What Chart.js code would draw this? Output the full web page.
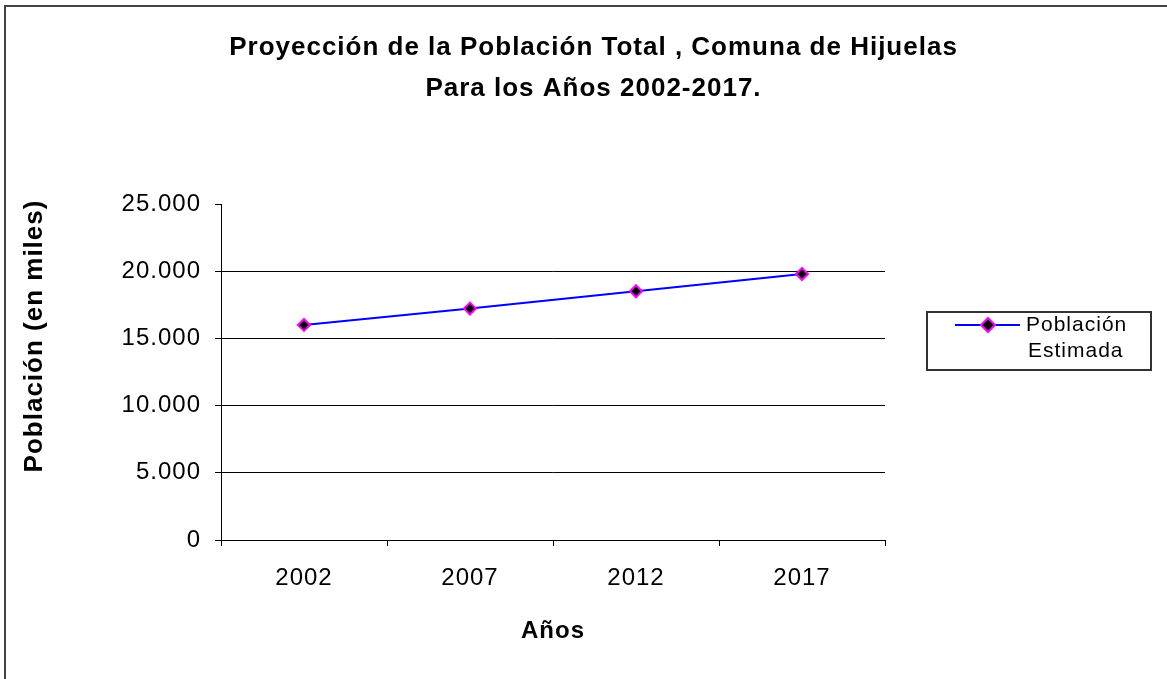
<!DOCTYPE html>
<html>
<head>
<meta charset="utf-8">
<script src="https://cdn.jsdelivr.net/npm/chart.js@4.4.1/dist/chart.umd.min.js"></script>
<style>
  html, body { margin:0; padding:0; background:#fff; }
  #wrap { position:relative; width:1167px; height:679px; overflow:hidden; }
  #frame { position:absolute; left:4px; top:5px; width:1300px; height:800px;
           border-top:2px solid #444; border-left:2px solid #444; }
  #chart { position:absolute; left:0; top:0; }
</style>
</head>
<body>
<div id="wrap">
  <div id="frame"></div>
  <canvas id="chart" width="1167" height="679"></canvas>
</div>
<script>
const FONT = '"Liberation Sans", Arial, sans-serif';

const titleLines = ['Proyección de la Población Total , Comuna de Hijuelas', 'Para los Años 2002-2017.'];
const years = ['2002', '2007', '2012', '2017'];
const poblacion = [16000, 17220, 18510, 19790];
const yTickLabels = ['0', '5.000', '10.000', '15.000', '20.000', '25.000'];
const seriesName = ['Población', 'Estimada'];
const xTitle = 'Años';
const yTitle = 'Población (en miles)';

// the old Excel text is a bit wider than Liberation Sans, so space letters out a little
const spacing = {
  id: 'spacing',
  beforeDraw(chart){ chart.ctx.letterSpacing = '1px'; }
};

// y axis title drawn by hand: Excel puts it off the plot's centre
const yTitlePlugin = {
  id: 'yTitle',
  afterDraw(chart){
    const ctx = chart.ctx;
    ctx.save();
    ctx.translate(35, 336);
    ctx.rotate(-Math.PI/2);
    ctx.font = 'bold 26px ' + FONT;
    ctx.letterSpacing = '1px';
    ctx.fillStyle = '#000';
    ctx.textAlign = 'center';
    ctx.textBaseline = 'middle';
    ctx.fillText(yTitle, 0, 0);
    ctx.restore();
  }
};

// boxed legend on the right
const boxLegend = {
  id: 'boxLegend',
  afterDraw(chart){
    const ctx = chart.ctx;
    ctx.save();
    ctx.strokeStyle = '#333';
    ctx.lineWidth = 2;
    ctx.strokeRect(927, 312, 224, 58);
    ctx.strokeStyle = '#0000ff';
    ctx.lineWidth = 2;
    ctx.beginPath(); ctx.moveTo(955, 325); ctx.lineTo(1020, 325); ctx.stroke();
    ctx.beginPath();
    ctx.moveTo(988, 318); ctx.lineTo(995, 325); ctx.lineTo(988, 332); ctx.lineTo(981, 325); ctx.closePath();
    ctx.fillStyle = '#000'; ctx.fill();
    ctx.strokeStyle = '#ff00ff'; ctx.stroke();
    ctx.fillStyle = '#000';
    ctx.font = '21px ' + FONT;
    ctx.letterSpacing = '1px';
    ctx.textAlign = 'left';
    ctx.textBaseline = 'middle';
    ctx.fillText(seriesName[0], 1026, 325);
    ctx.fillText(seriesName[1], 1028, 351);
    ctx.restore();
  }
};

new Chart(document.getElementById('chart'), {
  type: 'line',
  data: {
    labels: years,
    datasets: [{
      label: seriesName.join(' '),
      data: poblacion,
      borderColor: '#0000ff',
      borderWidth: 2,
      pointStyle: 'rectRot',
      pointRadius: 6,
      pointBackgroundColor: '#000',
      pointBorderColor: '#ff00ff',
      pointBorderWidth: 2,
      tension: 0
    }]
  },
  options: {
    responsive: false,
    animation: false,
    layout: { padding: { left: 20, right: 0, top: 0, bottom: 0 } },
    plugins: {
      legend: { display: false },
      tooltip: { enabled: false },
      title: {
        display: true,
        text: titleLines,
        color: '#000',
        font: { family: FONT, size: 26, weight: 'bold', lineHeight: 41/26 },
        padding: { top: 27, bottom: 95 }
      }
    },
    scales: {
      x: {
        type: 'category',
        offset: true,
        grid: { offset: true, drawOnChartArea: false, color: '#000', tickLength: 6 },
        border: { color: '#000' },
        ticks: { color: '#000', font: { family: FONT, size: 24 }, padding: 18, maxRotation: 0 },
        title: { display: true, text: xTitle, color: '#000',
                 font: { family: FONT, size: 24, weight: 'bold' }, padding: { top: 0, bottom: 33 } },
        afterFit(s){ s.height = 139; }
      },
      y: {
        position: 'left',
        min: 0, max: 25000,
        ticks: {
          stepSize: 5000,
          color: '#000',
          font: { family: FONT, size: 24 },
          padding: 14,
          callback: (v, i) => yTickLabels[i]
        },
        grid: {
          color: c => (c.tick && c.tick.value === 25000) ? 'rgba(0,0,0,0)' : '#000',
          tickColor: '#000',
          tickLength: 6
        },
        border: { color: '#000' },
        afterFit(s){ s.width = 201; }
      },
      pad: {
        position: 'right',
        display: true,
        grid: { display: false },
        border: { display: false },
        ticks: { display: false },
        afterFit(s){ s.width = 282; }
      }
    }
  },
  plugins: [spacing, yTitlePlugin, boxLegend]
});
</script>
</body>
</html>
